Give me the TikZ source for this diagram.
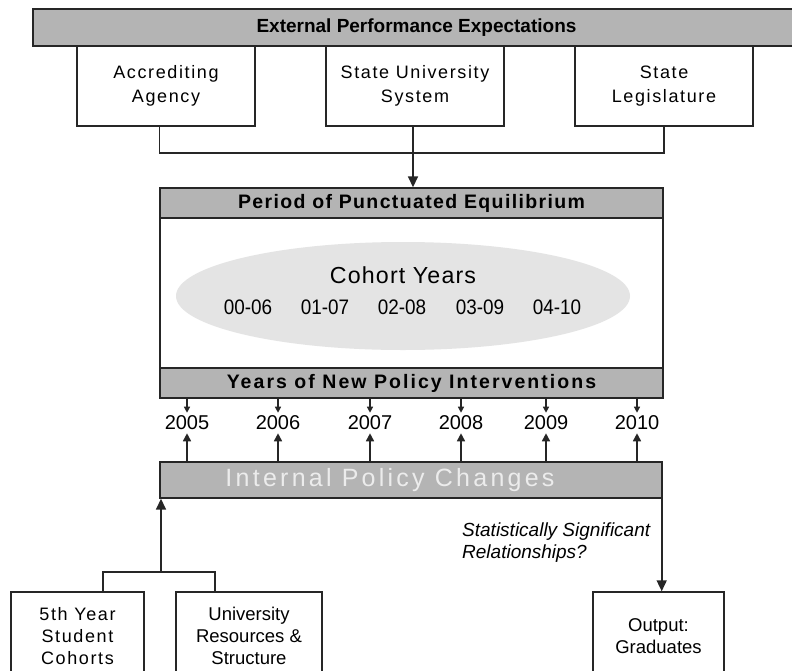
\documentclass[tikz,border=0pt]{standalone}
\usepackage{fontspec}
\setmainfont{Liberation Sans}
\newfontfamily\spacedfont[LetterSpace=9]{Liberation Sans}
\newfontfamily\hdrfont[LetterSpace=7]{Liberation Sans}
\newfontfamily\hdrwidefont[LetterSpace=10.5]{Liberation Sans}
\newfontfamily\widefont[LetterSpace=13]{Liberation Sans}
\newfontfamily\cohfont[LetterSpace=5]{Liberation Sans}
\newfontfamily\narrowfont[FakeStretch=0.9]{Liberation Sans}
\usetikzlibrary{arrows.meta,shapes.geometric}
\definecolor{bargray}{RGB}{180,180,180}
\definecolor{ellgray}{RGB}{228,228,228}
\definecolor{ipctext}{RGB}{236,236,236}
\tikzset{
  bar/.style={draw=black!85, line width=1.4pt, fill=bargray, inner sep=0pt},
  topbox/.style={draw=black!85, line width=1.4pt, fill=white, inner sep=0pt,
    minimum width=178pt, minimum height=80pt, align=center,
    font=\spacedfont\fontsize{18}{23.5}\selectfont},
  botbox/.style={draw=black!85, line width=1.4pt, fill=white, inner sep=0pt,
    minimum height=88pt, align=center,
    font=\fontsize{18.5}{22}\selectfont},
  conn/.style={draw=black!85, line width=1.6pt},
  arr/.style={conn, -{Triangle[length=11pt,width=10pt]}},
  smallarr/.style={draw=black!85, line width=1.3pt, -{Triangle[length=6pt,width=6pt]}},
  uparr/.style={draw=black!85, line width=1.5pt, -{Triangle[length=8pt,width=8pt]}},
  yeartxt/.style={font=\fontsize{20}{24}\selectfont, inner xsep=0pt, inner ysep=3pt},
  cohnum/.style={font=\narrowfont\fontsize{21}{24}\selectfont, inner sep=0pt},
}
\begin{document}
\begin{tikzpicture}[x=1pt,y=-1pt]
\useasboundingbox (0,0) rectangle (792,670);
% top bar
\node[bar, minimum width=780pt, minimum height=37pt] (ext) at (423,27.5) {};
\node[font=\bfseries\fontsize{19}{22}\selectfont, inner sep=0pt] (extt) at (416.5,27.5) {External Performance Expectations};
% top boxes
\node[topbox] (acc) at (166,86) {Accrediting\\Agency};
\node[topbox] (sus) at (415,86) {State University\\System};
\node[topbox] (leg) at (664,86) {State\\Legislature};
% period box
\node[bar, minimum width=503pt, minimum height=30pt,
  font=\bfseries\hdrfont\fontsize{19.5}{22}\selectfont] (hdr) at (411.5,203) {Period of Punctuated Equilibrium};
\node[draw=black!85, line width=1.4pt, fill=white, minimum width=503pt, minimum height=150pt, inner sep=0pt] (body) at (411.5,293) {};
\node[bar, minimum width=503pt, minimum height=30pt,
  font=\bfseries\hdrwidefont\fontsize{19.5}{22}\selectfont] (ybar) at (411.5,383) {Years of New Policy Interventions};
\node[ellipse, fill=ellgray, minimum width=454pt, minimum height=108pt, inner sep=0pt] (ell) at (403,296) {};
\node[font=\cohfont\fontsize{23.2}{26}\selectfont, inner sep=0pt] (coh) at (403,275) {Cohort Years};
\node[cohnum] (c1) at (248,307) {00-06};
\node[cohnum] (c2) at (325,307) {01-07};
\node[cohnum] (c3) at (402,307) {02-08};
\node[cohnum] (c4) at (480,307) {03-09};
\node[cohnum] (c5) at (557,307) {04-10};
% connectors top
\coordinate (jn) at (413,153);
\draw[conn] (acc.south -| hdr.west) -- (hdr.west |- jn) -- (hdr.east |- jn) -- (leg.south -| hdr.east);
\draw[arr] (sus.south -| jn) -- (hdr.north -| jn);
% internal policy bar
\node[bar, minimum width=502pt, minimum height=36pt] (ipc) at (411,480) {};
\node[font=\widefont\fontsize{25}{28}\selectfont, text=ipctext, inner sep=0pt] (ipct) at (390,480) {Internal Policy Changes};
% years
\foreach \yr/\xx in {2005/187,2006/278,2007/370,2008/461,2009/546,2010/637}{
  \node[yeartxt] (y\yr) at (\xx,423) {\yr};
  \draw[smallarr] (ybar.south -| y\yr) -- (y\yr.north);
  \draw[uparr] (ipc.north -| y\yr) -- (y\yr.south);
}
% italic label
\node[anchor=west, align=left, inner sep=0pt, font=\itshape\fontsize{19}{22}\selectfont] (stat) at (462,543) {Statistically Significant\\Relationships?};
% bottom boxes
\node[botbox, minimum width=133pt, font=\spacedfont\fontsize{18}{22}\selectfont] (cohb) at (77.5,636) {5th Year\\Student\\Cohorts};
\node[botbox, minimum width=146pt] (res) at (249,636) {University\\Resources \&\\Structure};
\node[botbox, minimum width=131pt] (out) at (658.5,636) {Output:\\Graduates};
% bottom connectors
\coordinate (fL) at (103,572);
\coordinate (fR) at (215,572);
\coordinate (fM) at (161,572);
\draw[conn] (cohb.north -| fL) -- (fL) -- (fR) -- (res.north -| fR);
\draw[arr] (fM) -- (fM |- ipc.south);
\draw[arr] ([xshift=-1pt]ipc.south east) -- ([xshift=-1pt]ipc.south east |- out.north);
\end{tikzpicture}
\end{document}
